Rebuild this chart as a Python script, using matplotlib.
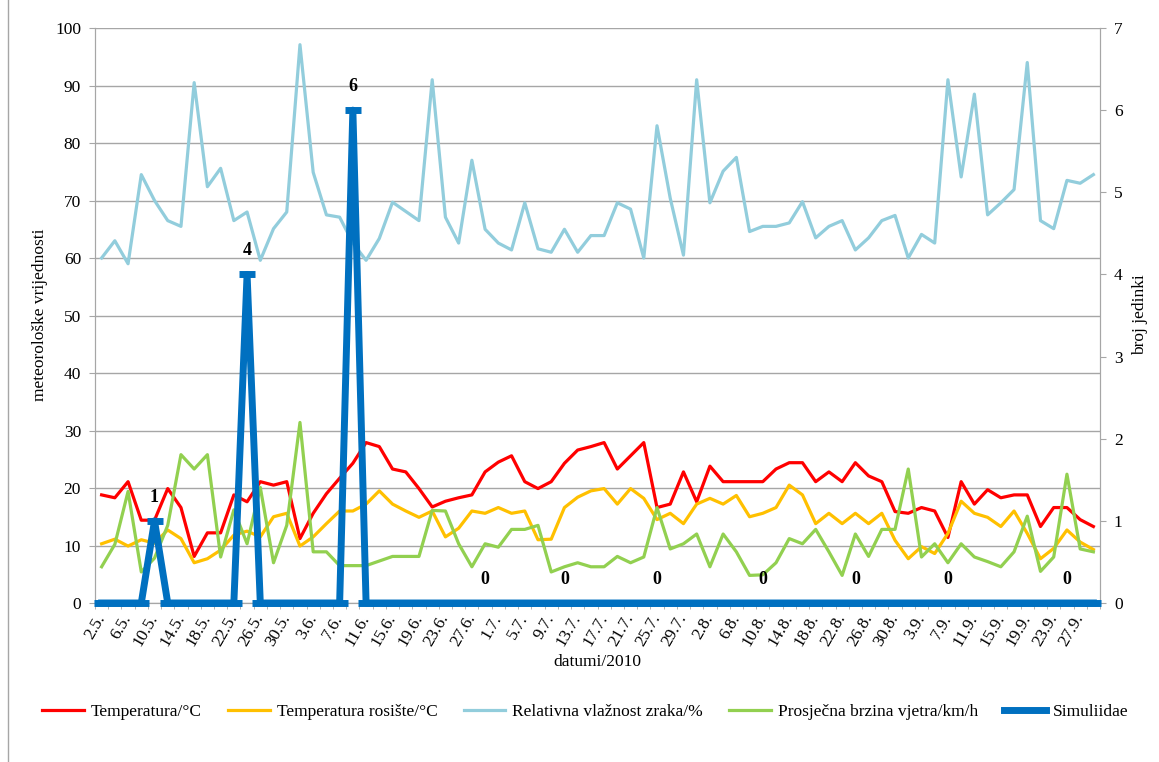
import matplotlib
matplotlib.use("Agg")
import matplotlib.pyplot as plt
import numpy as np
from matplotlib.lines import Line2D

# every second day, 2.5. - 29.9.2010
dates = ["2.5.", "4.5.", "6.5.", "8.5.", "10.5.", "12.5.", "14.5.", "16.5.", "18.5.", "20.5.",
         "22.5.", "24.5.", "26.5.", "28.5.", "30.5.",
         "1.6.", "3.6.", "5.6.", "7.6.", "9.6.", "11.6.", "13.6.", "15.6.", "17.6.", "19.6.",
         "21.6.", "23.6.", "25.6.", "27.6.", "29.6.",
         "1.7.", "3.7.", "5.7.", "7.7.", "9.7.", "11.7.", "13.7.", "15.7.", "17.7.", "19.7.",
         "21.7.", "23.7.", "25.7.", "27.7.", "29.7.", "31.7.",
         "2.8.", "4.8.", "6.8.", "8.8.", "10.8.", "12.8.", "14.8.", "16.8.", "18.8.", "20.8.",
         "22.8.", "24.8.", "26.8.", "28.8.", "30.8.",
         "1.9.", "3.9.", "5.9.", "7.9.", "9.9.", "11.9.", "13.9.", "15.9.", "17.9.", "19.9.",
         "21.9.", "23.9.", "25.9.", "27.9.", "29.9."]

temp = [18.8, 18.3, 21.1, 14.4, 14.4, 19.9, 16.6, 8.1, 12.2, 12.2,
        18.8, 17.6, 21.1, 20.5, 21.1, 11.2, 15.6, 19.0, 21.7, 24.3,
        27.9, 27.2, 23.3, 22.8, 19.9, 16.7, 17.7, 18.3, 18.8, 22.8,
        24.5, 25.6, 21.1, 19.9, 21.1, 24.3, 26.6, 27.2, 27.9, 23.3,
        25.6, 27.9, 16.6, 17.2, 22.8, 17.6, 23.8, 21.1, 21.1, 21.1,
        21.1, 23.3, 24.4, 24.4, 21.1, 22.8, 21.1, 24.4, 22.1, 21.1,
        15.9, 15.6, 16.6, 16.0, 11.4, 21.1, 17.2, 19.7, 18.3, 18.8,
        18.8, 13.3, 16.6, 16.6, 14.5, 13.3]

dew = [10.3, 11.1, 9.9, 11.0, 10.4, 12.7, 11.2, 7.0, 7.7, 9.2,
       11.8, 12.5, 11.5, 15.0, 15.6, 9.9, 11.5, 13.8, 16.0, 16.0,
       17.2, 19.5, 17.2, 16.0, 14.9, 16.0, 11.5, 13.0, 16.0, 15.6,
       16.6, 15.6, 16.0, 11.0, 11.1, 16.6, 18.4, 19.5, 19.9, 17.2,
       19.9, 18.2, 14.5, 15.6, 13.8, 17.2, 18.2, 17.2, 18.7, 15.0,
       15.6, 16.6, 20.5, 18.8, 13.8, 15.6, 13.8, 15.6, 13.8, 15.6,
       10.9, 7.7, 9.8, 8.6, 12.1, 17.7, 15.6, 14.9, 13.3, 16.0,
       12.1, 7.7, 9.5, 12.7, 10.6, 9.3]

humidity = [60.0, 63.0, 59.0, 74.5, 70.0, 66.5, 65.5, 90.5, 72.4, 75.6,
            66.5, 68.0, 59.6, 65.1, 68.0, 97.1, 74.9, 67.5, 67.1, 62.6,
            59.6, 63.4, 69.7, 68.1, 66.5, 91.0, 67.1, 62.6, 77.0, 65.0,
            62.6, 61.4, 69.6, 61.6, 61.0, 65.0, 61.0, 63.9, 63.9, 69.6,
            68.5, 60.0, 83.0, 70.4, 60.5, 91.0, 69.6, 75.1, 77.5, 64.6,
            65.5, 65.5, 66.1, 69.8, 63.5, 65.5, 66.5, 61.4, 63.5, 66.5,
            67.4, 60.0, 64.1, 62.6, 91.0, 74.1, 88.5, 67.5, 69.6, 71.9,
            94.0, 66.5, 65.1, 73.5, 73.0, 74.5]

wind = [6.3, 10.2, 19.4, 5.4, 7.8, 13.5, 25.8, 23.3, 25.8, 8.0,
        16.2, 10.3, 20.1, 7.0, 13.5, 31.4, 8.9, 8.9, 6.5, 6.5,
        6.5, 7.3, 8.1, 8.1, 8.1, 16.1, 16.0, 10.3, 6.3, 10.3,
        9.7, 12.8, 12.8, 13.5, 5.4, 6.3, 7.0, 6.3, 6.3, 8.1,
        7.0, 8.0, 16.6, 9.4, 10.3, 12.0, 6.3, 12.0, 8.9, 4.8,
        4.9, 7.0, 11.2, 10.3, 12.8, 8.9, 4.8, 12.0, 8.1, 12.8,
        12.8, 23.3, 8.0, 10.3, 7.0, 10.3, 8.0, 7.2, 6.3, 8.9,
        15.1, 5.5, 8.0, 22.4, 9.4, 8.9]

simuliidae = [0, 0, 0, 0, 1, 0, 0, 0, 0, 0,
              0, 4, 0, 0, 0, 0, 0, 0, 0, 6,
              0, 0, 0, 0, 0, 0, 0, 0, 0, 0,
              0, 0, 0, 0, 0, 0, 0, 0, 0, 0,
              0, 0, 0, 0, 0, 0, 0, 0, 0, 0,
              0, 0, 0, 0, 0, 0, 0, 0, 0, 0,
              0, 0, 0, 0, 0, 0, 0, 0, 0, 0,
              0, 0, 0, 0, 0, 0]
# sampling days that carry a data label
labelled = [4, 11, 19, 29, 35, 42, 50, 57, 64, 73]

plt.rcParams['font.family'] = ['Liberation Serif', 'DejaVu Serif']
grey = '#A6A6A6'

W, H = 1159, 762
fig = plt.figure(figsize=(W/100, H/100), dpi=100)
ax = fig.add_axes([95/W, 1-603/H, 1005/W, 575/H])
ax2 = ax.twinx()

x = np.arange(len(dates))
l1, = ax.plot(x, temp, color='#FF0000', lw=2.3, label='Temperatura/°C')
l2, = ax.plot(x, dew, color='#FFC000', lw=2.3, label='Temperatura rosište/°C')
l3, = ax.plot(x, humidity, color='#92CDDC', lw=2.3, label='Relativna vlažnost zraka/%')
l4, = ax.plot(x, wind, color='#92D050', lw=2.3, label='Prosječna brzina vjetra/km/h')
ax2.plot(x, simuliidae, color='#0070C0', lw=5, marker='_', ms=11, mew=5,
         clip_on=False, zorder=5)
l5 = Line2D([], [], color='#0070C0', lw=5, label='Simuliidae')

for i in labelled:
    ax2.annotate(str(simuliidae[i]), (x[i], simuliidae[i]), xytext=(0, 17),
                 textcoords='offset points', ha='center', va='center',
                 fontsize=13, fontweight='bold', annotation_clip=False)

ax.set_xlim(-0.5, len(dates) - 0.5)
ax.set_ylim(0, 100)
ax2.set_ylim(0, 7)
ax.set_yticks(np.arange(0, 101, 10))
ax2.set_yticks(np.arange(0, 8, 1))
ax.yaxis.grid(True, color=grey, lw=1)
ax.set_axisbelow(True)

ax.set_xticks(x[::2])
ax.set_xticklabels(dates[::2], rotation=60, ha='right', va='center', rotation_mode='anchor')
ax.set_xticks(np.arange(-0.5, len(dates), 1), minor=True)
ax.tick_params(axis='x', which='major', length=0, pad=9, labelsize=12.5)
ax.tick_params(axis='x', which='minor', length=4, color=grey)
ax.tick_params(axis='y', length=4, color=grey, labelsize=12.5, pad=6)
ax2.tick_params(axis='y', length=4, color=grey, labelsize=12.5, pad=6)

for a in (ax, ax2):
    a.spines['top'].set_visible(False)
    for s in ('left', 'right', 'bottom'):
        a.spines[s].set_color(grey)

fig.text(40/W, 1-315/H, 'meteorološke vrijednosti', rotation=90, ha='center', va='center', fontsize=12.5)
fig.text(1140/W, 1-315/H, 'broj jedinki', rotation=90, ha='center', va='center', fontsize=12.5)
fig.text(597/W, 1-662/H, 'datumi/2010', ha='center', va='center', fontsize=12.5)

handles = [l1, l2, l3, l4, l5]
fig.legend(handles, [h.get_label() for h in handles],
           loc='center', bbox_to_anchor=(0.505, 1-712/H), ncol=5, frameon=False,
           fontsize=12.5, handlelength=2.4, columnspacing=1.5, handletextpad=0.4)

fig.add_artist(Line2D([8/W, 8/W], [0, 1], color=grey, lw=1))

fig.savefig('out.png', dpi=100)
